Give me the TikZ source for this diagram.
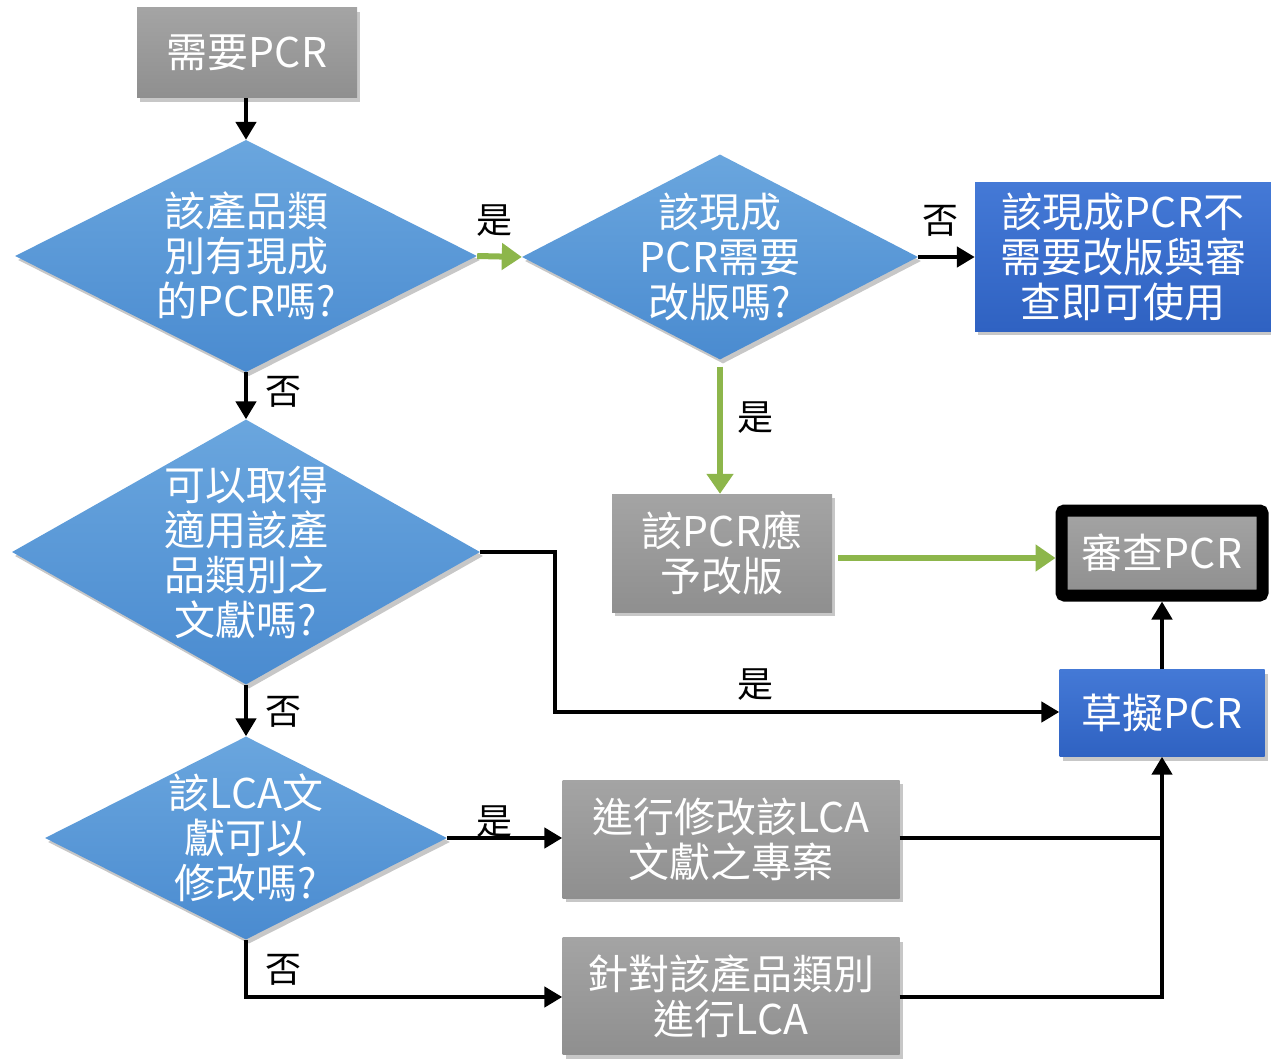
\documentclass[tikz,border=0pt]{standalone}
\usepackage{fontspec}
\setmainfont{Noto Sans CJK TC}
\usetikzlibrary{shapes.geometric,arrows.meta,shadows}
\definecolor{grayTop}{HTML}{A4A4A4}
\definecolor{grayBot}{HTML}{8F8F8F}
\definecolor{blueTop}{HTML}{4479D6}
\definecolor{blueBot}{HTML}{2F62C2}
\definecolor{diaTop}{HTML}{6AA6DE}
\definecolor{diaBot}{HTML}{4A8BD0}
\definecolor{arrowGreen}{HTML}{8DB64B}
\tikzset{
  txt/.style={text=white,align=center,font=\fontsize{41}{45}\selectfont,inner sep=0pt},
  shad/.style={drop shadow={shadow xshift=3pt,shadow yshift=-4pt,opacity=0.22,fill=black}},
  graybox/.style={txt,rectangle,top color=grayTop,bottom color=grayBot,draw=none,shad},
  bluebox/.style={txt,rectangle,top color=blueTop,bottom color=blueBot,draw=none,shad},
  decision/.style={diamond,inner sep=0pt,top color=diaTop,bottom color=diaBot,draw=none,shad},
  blk/.style={draw=black,line width=4.5pt,-{Triangle[length=18pt,width=20pt]}},
  grn/.style={draw=arrowGreen,line width=6pt,-{Triangle[length=20pt,width=26pt]}},
  lbl/.style={text=black,font=\fontsize{36}{40}\selectfont,inner sep=0pt}
}
\begin{document}
\begin{tikzpicture}[x=1pt,y=-1pt]
\useasboundingbox (0,0) rectangle (1271,1059);
% nodes
\node[graybox,minimum width=220pt,minimum height=90pt] (n0) at (247,53) {需要PCR};
\node[decision,minimum width=462pt,minimum height=232pt] (d1) at (246,256) {};
\node[txt] (t1) at (d1.center) {該產品類\\別有現成\\的PCR嗎?};
\node[decision,minimum width=396pt,minimum height=205pt] (d2) at (720,257) {};
\node[txt] (t2) at (d2.center) {該現成\\PCR需要\\改版嗎?};
\node[bluebox,minimum width=296pt,minimum height=148pt] (b1) at (1123,257) {該現成PCR不\\需要改版與審\\查即可使用};
\node[decision,minimum width=468pt,minimum height=265pt] (d3) at (246,552) {};
\node[txt] (t3) at (d3.center) {可以取得\\適用該產\\品類別之\\文獻嗎?};
\node[graybox,minimum width=220pt,minimum height=118pt] (g1) at (722,553) {該PCR應\\予改版};
\node[graybox,draw=black,line width=12pt,rounded corners=3pt,minimum width=201pt,minimum height=85pt] (r) at (1162,553) {審查PCR};
\node[bluebox,minimum width=205pt,minimum height=87pt] (b2) at (1162,713) {草擬PCR};
\node[decision,minimum width=402pt,minimum height=203pt] (d4) at (246,838) {};
\node[txt] (t4) at (d4.center) {該LCA文\\獻可以\\修改嗎?};
\node[graybox,minimum width=337pt,minimum height=118pt] (g2) at (731,839) {進行修改該LCA\\文獻之專案};
\node[graybox,minimum width=337pt,minimum height=117pt] (g3) at (731,996) {針對該產品類別\\進行LCA};
% helper coordinates
\coordinate (c3a) at (555,552);
\coordinate (c3b) at (555,712);
\coordinate (c4a) at (246,997);
\coordinate (j1) at (1162,838);
\coordinate (j2) at (1162,997);
% connectors
\draw[blk] (n0.south -| d1.north) -- (d1.north);
\draw[grn] (d1.east) -- (d2.west);
\draw[blk] (d2.east) -- (b1.west);
\draw[grn] ([yshift=-7pt]d2.south) -- (g1.north -| d2.south);
\draw[grn] ([xshift=6pt,yshift=-5pt]g1.east) -- ([yshift=-5pt]r.west);
\draw[blk] (d1.south) -- (d3.north);
\draw[blk] (d3.east) -- (c3a) -- (c3b) -- (b2.west |- c3b);
\draw[blk] (d3.south) -- (d4.north);
\draw[blk] (d4.east) -- (g2.west |- d4.east);
\draw[blk] (d4.south) -- (c4a) -- (g3.west |- c4a);
\draw[draw=black,line width=4.5pt] (g2.east |- j1) -- (j1);
\draw[blk] (g3.east |- j2) -- (j2) -- (b2.south);
\draw[blk] (b2.north) -- (r.south);
% labels
\node[lbl] (l1) at (494,221) {是};
\node[lbl] (l2) at (940,221) {否};
\node[lbl] (l3) at (755,418) {是};
\node[lbl] (l4) at (283,392) {否};
\node[lbl] (l5) at (755,685) {是};
\node[lbl] (l6) at (283,712) {否};
\node[lbl] (l7) at (494,822) {是};
\node[lbl] (l8) at (283,970) {否};
\end{tikzpicture}
\end{document}
